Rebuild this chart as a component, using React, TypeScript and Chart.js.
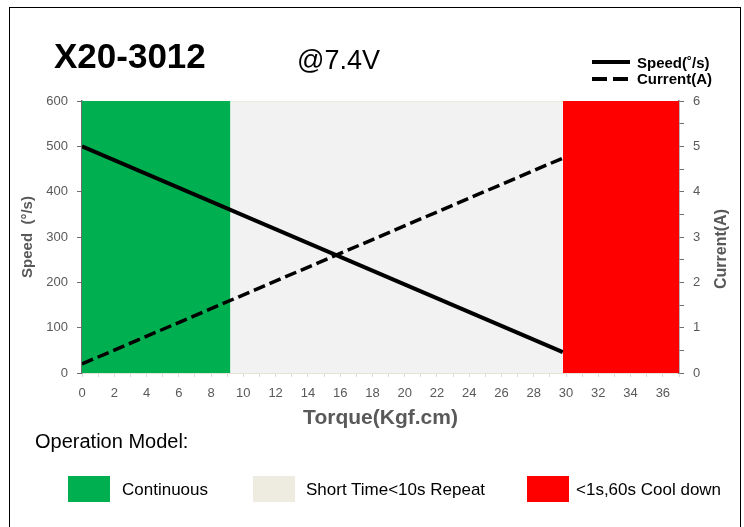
import React, { useEffect, useRef } from 'react';
import { Chart, registerables } from 'chart.js';

Chart.register(...registerables);

// ---- data ----
const speedTorque = [0, 29.8];
const speedValues = [500, 46];
const currentTorque = [0, 29.8];
const currentValues = [0.2, 4.74];

const zoneLabels = ['Continuous', 'Short Time<10s Repeat', '<1s,60s Cool down'];
const zoneStart = [0, 9.2, 29.8];
const zoneEnd = [9.2, 29.8, 37];
const zoneTop = [600, 600, 600];

const torqueRange = [0, 37];
const torqueStep = 1;
const torqueLabelEvery = 2;
const speedRange = [0, 600];
const speedStep = 100;
const currentRange = [0, 6];
const currentStep = 0.5;

// ---- styles ----
const zoneFill = ['#00b050', '#f2f2f2', '#ff0000'];
const zoneSwatch = ['#00b050', '#eeece1', '#ff0000'];
const zoneBorder = ['rgba(0,0,0,0)', '#eeece1', 'rgba(0,0,0,0)'];
const FONT = "'Liberation Sans', Arial, sans-serif";
const GREY_TEXT = '#595959';

export default function App() {
  const ref = useRef<HTMLCanvasElement | null>(null);

  useEffect(() => {
    document.body.style.margin = '0';
    const canvas = ref.current;
    if (!canvas) return;

    const zoneSets = zoneLabels.map((name, i) => ({
      type: 'line' as const,
      label: name,
      data: [
        { x: zoneStart[i], y: zoneTop[i] },
        { x: zoneEnd[i], y: zoneTop[i] },
      ],
      yAxisID: 'y',
      fill: 'origin',
      backgroundColor: zoneFill[i],
      borderColor: zoneBorder[i],
      borderWidth: i === 1 ? 2.5 : 0,
      pointRadius: 0,
      order: 5,
    }));

    const chart = new Chart(canvas, {
      type: 'line',
      data: {
        datasets: [
          {
            label: 'Speed(˚/s)',
            data: speedTorque.map((t, i) => ({ x: t, y: speedValues[i] })),
            yAxisID: 'y',
            borderColor: '#000000',
            borderWidth: 4,
            pointRadius: 0,
            fill: false,
            order: 0,
          },
          {
            label: 'Current(A)',
            data: currentTorque.map((t, i) => ({ x: t, y: currentValues[i] })),
            yAxisID: 'y1',
            borderColor: '#000000',
            borderWidth: 3.5,
            borderDash: [12, 5],
            pointRadius: 0,
            fill: false,
            order: 0,
          },
          ...zoneSets,
        ] as any,
      },
      options: {
        animation: false,
        responsive: false,
        devicePixelRatio: 1,
        font: { family: FONT },
        layout: { padding: { left: 0, right: 0, top: 101, bottom: 94 } },
        plugins: {
          legend: { display: false },
          tooltip: { enabled: false },
        },
        scales: {
          x: {
            type: 'linear',
            min: torqueRange[0],
            max: torqueRange[1],
            afterFit: (s: any) => { s.height = 60; },
            border: { color: '#e6e3d6', width: 2 },
            grid: { drawOnChartArea: false, drawTicks: true, tickLength: 4, tickColor: '#d9d9d9' },
            ticks: {
              stepSize: torqueStep,
              autoSkip: false,
              maxRotation: 0,
              padding: 9,
              color: GREY_TEXT,
              font: { family: FONT, size: 13 },
              callback: (v: any) => (Number(v) % torqueLabelEvery === 0 ? String(v) : ''),
            },
            title: {
              display: true,
              text: 'Torque(Kgf.cm)',
              color: GREY_TEXT,
              font: { family: FONT, size: 21, weight: 'bold' },
              padding: { top: 0, bottom: 2 },
            },
          },
          y: {
            type: 'linear',
            position: 'left',
            min: speedRange[0],
            max: speedRange[1],
            z: 1,
            afterFit: (s: any) => { s.width = 82; },
            border: { color: '#6e6e6e', width: 1.5 },
            grid: { drawOnChartArea: false, drawTicks: true, tickLength: 5, tickColor: '#6e6e6e' },
            ticks: {
              stepSize: speedStep,
              padding: 9,
              color: GREY_TEXT,
              font: { family: FONT, size: 13 },
            },
            title: {
              display: true,
              text: 'Speed  (°/s)',
              color: GREY_TEXT,
              font: { family: FONT, size: 15, weight: 'bold' },
              padding: { top: 19, bottom: 0 },
            },
          },
          y1: {
            type: 'linear',
            position: 'right',
            min: currentRange[0],
            max: currentRange[1],
            z: 1,
            afterFit: (s: any) => { s.width = 65; },
            border: { color: '#6e6e6e', width: 1.5 },
            grid: { drawOnChartArea: false, drawTicks: true, tickLength: 5, tickColor: '#6e6e6e' },
            ticks: {
              stepSize: currentStep,
              padding: 9,
              color: GREY_TEXT,
              font: { family: FONT, size: 13 },
              callback: (v: any) => (Number.isInteger(Number(v)) ? String(v) : ''),
            },
          },
        },
      } as any,
    });

    return () => chart.destroy();
  }, []);

  const abs = (o: React.CSSProperties): React.CSSProperties => ({ position: 'absolute', whiteSpace: 'nowrap', lineHeight: 1, fontFamily: FONT, ...o });

  const swatchX = [68, 253, 527];
  const textX = [122, 306, 576];

  return (
    <div style={{ position: 'relative', width: 744, height: 527, overflow: 'hidden', background: '#fff' }}>
      <canvas ref={ref} width={744} height={527} style={{ display: 'block', width: 744, height: 527 }} />
      <div style={{ position: 'absolute', left: 9, top: 7, width: 730, height: 600, border: '1px solid #000', borderBottom: 'none', pointerEvents: 'none' }} />
      <div style={abs({ left: 54, top: 38, fontSize: 35, fontWeight: 'bold', color: '#000' })}>X20-3012</div>
      <div style={abs({ left: 297, top: 47, fontSize: 27, color: '#000' })}>@7.4V</div>

      <div style={abs({ left: 592, top: 60, width: 38, height: 4, background: '#000' })} />
      <div style={abs({ left: 592, top: 77, width: 15, height: 4, background: '#000' })} />
      <div style={abs({ left: 613, top: 77, width: 15, height: 4, background: '#000' })} />
      <div style={abs({ left: 637, top: 55, fontSize: 15, fontWeight: 'bold', color: '#000' })}>Speed(˚/s)</div>
      <div style={abs({ left: 637, top: 71, fontSize: 15, fontWeight: 'bold', color: '#000' })}>Current(A)</div>

      <div style={abs({ left: 721, top: 249, fontSize: 16, fontWeight: 'bold', color: GREY_TEXT, transform: 'translate(-50%, -50%) rotate(-90deg)' })}>Current(A)</div>

      <div style={abs({ left: 35, top: 431, fontSize: 20, color: '#000' })}>Operation Model:</div>
      {zoneLabels.map((name, i) => (
        <React.Fragment key={name}>
          <div style={abs({ left: swatchX[i], top: 476, width: 42, height: 26, background: zoneSwatch[i] })} />
          <div style={abs({ left: textX[i], top: 481, fontSize: 17, color: '#000' })}>{name}</div>
        </React.Fragment>
      ))}
    </div>
  );
}
